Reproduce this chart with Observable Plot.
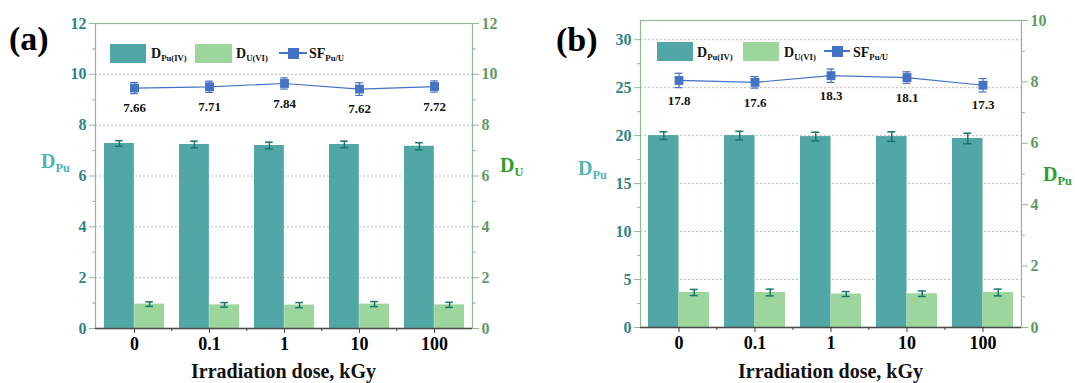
<!DOCTYPE html>
<html><head><meta charset="utf-8">
<script src="https://cdn.jsdelivr.net/npm/d3@7"></script>
<script src="https://cdn.jsdelivr.net/npm/@observablehq/plot@0.6"></script>
<style>
body{margin:0;background:#fff;}
#root{position:relative;width:1075px;height:383px;overflow:hidden;font-family:"Liberation Serif","Times New Roman",serif;font-weight:bold;}
#root svg, #root svg text{font-family:"Liberation Serif","Times New Roman",serif !important;}
.svgwrap{position:absolute;top:0;}
.lab{position:absolute;white-space:nowrap;line-height:1;font-family:"Liberation Serif","Times New Roman",serif;font-weight:bold;}
.lab .s{font-size:0.62em;position:relative;top:0.32em;}
.sw{position:absolute;}
</style></head><body><div id="root"></div>
<script>
// ---- data ----
const doses = ["0", "0.1", "1", "10", "100"];
// panel (a)
const puA = [7.28, 7.24, 7.20, 7.24, 7.17];
const puErrA = [0.11, 0.13, 0.13, 0.13, 0.14];
const uA = [0.96, 0.93, 0.92, 0.96, 0.93];
const uErrA = [0.09, 0.09, 0.10, 0.10, 0.10];
const sfA = [7.66, 7.71, 7.84, 7.62, 7.72];
const sfErrA = [0.22, 0.22, 0.22, 0.25, 0.22];
// panel (b)
const puB = [20.0, 20.0, 19.9, 19.9, 19.7];
const puErrB = [0.40, 0.45, 0.45, 0.50, 0.55];
const uB = [1.14, 1.14, 1.09, 1.10, 1.14];
const uErrB = [0.10, 0.11, 0.08, 0.09, 0.11];
const sfB = [17.8, 17.6, 18.3, 18.1, 17.3];
const sfErrB = [0.75, 0.60, 0.70, 0.60, 0.70];

const TEAL = "#51a6a6", GREEN = "#9dd69c", ERR = "#17776f", BLUE = "#4472c4";
const AX = "#92b892", LTXT = "#2f8585", RTXT = "#5f9a5f";
const FF = '"Liberation Serif", serif';
const root = document.getElementById("root");

function panel(o) {
  const pw = o.width - o.ml - o.mr;
  const step = pw / doses.length, bw = step * 0.8, q = bw / 4, c = 4;
  const rows = doses.map((d, i) => ({
    dose: d, pu: o.pu[i], puE: o.puErr[i],
    u: o.u[i] * o.ratio, uE: o.uErr[i] * o.ratio,
    sf: o.sf[i], sfy: o.sf[i] + o.sfOff, sfE: o.sfErr[i]
  }));
  const capStyle = (center) => ({insetLeft: center - c, insetRight: bw - center - c});
  const errMarks = (yf, ef, center, stroke, sw) => [
    Plot.ruleX(rows, {x: "dose", y1: d => d[yf] - d[ef], y2: d => d[yf] + d[ef], dx: center - bw / 2, stroke, strokeWidth: sw}),
    Plot.tickY(rows, {x: "dose", y: d => d[yf] - d[ef], ...capStyle(center), stroke, strokeWidth: sw}),
    Plot.tickY(rows, {x: "dose", y: d => d[yf] + d[ef], ...capStyle(center), stroke, strokeWidth: sw})
  ];
  const chart = Plot.plot({
    width: o.width, height: 383,
    marginLeft: o.ml, marginRight: o.mr, marginTop: o.mt, marginBottom: o.mb,
    style: {fontFamily: FF, background: "transparent", overflow: "visible"},
    x: {type: "band", domain: doses, paddingInner: 0.2, paddingOuter: 0.1, label: null},
    y: {domain: [0, o.yMax], label: null},
    marks: [
      Plot.ruleY(o.grid, {stroke: "#bcbcbc", strokeDasharray: "2,2", strokeWidth: 1}),
      Plot.barY(rows, {x: "dose", y: "pu", fill: TEAL, insetRight: bw / 2}),
      Plot.barY(rows, {x: "dose", y: "u", fill: GREEN, insetLeft: bw / 2}),
      ...errMarks("pu", "puE", q, ERR, 1.5),
      ...errMarks("u", "uE", 3 * q, ERR, 1.5),
      Plot.frame({stroke: AX, strokeWidth: 1.2}),
      Plot.ruleY([0], {stroke: "#4a4a4a", strokeWidth: 1.3}),
      Plot.line(rows, {x: "dose", y: "sfy", stroke: BLUE, strokeWidth: 1.2}),
      ...errMarks("sfy", "sfE", 2 * q, BLUE, 1.2),
      Plot.dot(rows, {x: "dose", y: "sfy", symbol: "square", r: 5, fill: BLUE}),
      Plot.text(rows, {x: "dose", y: "sfy", text: d => d.sf.toFixed(o.dec), dy: 20, fontSize: 13, fontWeight: "bold", fontFamily: FF, fill: "#111"}),
      Plot.axisY({anchor: "left", ticks: o.lt, tickSize: 6, tickPadding: 3, stroke: AX, fill: LTXT, fontSize: 16, fontWeight: "bold", fontFamily: FF, label: null}),
      Plot.axisY({anchor: "left", ticks: o.lm, tickSize: 3, stroke: AX, tickFormat: () => "", label: null}),
      Plot.axisY({anchor: "right", ticks: o.rt.map(v => v * o.ratio), tickFormat: d => String(Math.round(d / o.ratio)), tickSize: 6, tickPadding: 3, stroke: AX, fill: RTXT, fontSize: 16, fontWeight: "bold", fontFamily: FF, label: null}),
      Plot.axisY({anchor: "right", ticks: o.rm.map(v => v * o.ratio), tickSize: 3, stroke: AX, tickFormat: () => "", label: null}),
      Plot.axisX({ticks: doses, tickSize: 5, tickPadding: 4, stroke: "#444", fill: "#000", fontSize: 18, fontWeight: "bold", fontFamily: FF, label: null}),
      Plot.axisX({ticks: doses.slice(1), tickSize: 3, dx: -step / 2, stroke: "#444", tickFormat: () => "", label: null})
    ]
  });
  const wrap = document.createElement("div");
  wrap.className = "svgwrap";
  wrap.style.left = o.left + "px";
  wrap.appendChild(chart);
  root.appendChild(wrap);
}

function lab(html, x, base, size, color, anchor) {
  const d = document.createElement("div");
  d.className = "lab";
  d.innerHTML = html;
  d.style.fontSize = size + "px";
  d.style.color = color;
  d.style.left = x + "px";
  d.style.top = (base - 0.8375 * size) + "px";
  if (anchor === "middle") d.style.transform = "translateX(-50%)";
  root.appendChild(d);
}
function sw(x, y, w, h, color) {
  const d = document.createElement("div");
  d.className = "sw";
  Object.assign(d.style, {left: x + "px", top: y + "px", width: w + "px", height: h + "px", background: color});
  root.appendChild(d);
}
function lineSym(x, yc, w) {
  sw(x, yc - 1, w, 2, BLUE);
  sw(x + w / 2 - 5.5, yc - 5.5, 11, 11, BLUE);
}

panel({left: 0, width: 540, ml: 95, mr: 68, mt: 23, mb: 55, yMax: 12, ratio: 1,
  pu: puA, puErr: puErrA, u: uA, uErr: uErrA, sf: sfA, sfErr: sfErrA, sfOff: 1.8, dec: 2,
  grid: [2, 4, 6, 8, 10], lt: [0, 2, 4, 6, 8, 10, 12], lm: [1, 3, 5, 7, 9, 11],
  rt: [0, 2, 4, 6, 8, 10, 12], rm: [1, 3, 5, 7, 9, 11]});
panel({left: 540, width: 535, ml: 100, mr: 54, mt: 20, mb: 56, yMax: 32, ratio: 3.2,
  pu: puB, puErr: puErrB, u: uB, uErr: uErrB, sf: sfB, sfErr: sfErrB, sfOff: 7.95, dec: 1,
  grid: [5, 10, 15, 20, 25, 30], lt: [0, 5, 10, 15, 20, 25, 30], lm: [2.5, 7.5, 12.5, 17.5, 22.5, 27.5],
  rt: [0, 2, 4, 6, 8, 10], rm: [1, 3, 5, 7, 9]});

// panel letters
lab("(a)", 9, 50, 34, "#000");
lab("(b)", 556, 51, 34, "#000");
// axis titles
lab("Irradiation dose, kGy", 283.5, 378, 20, "#111", "middle");
lab("Irradiation dose, kGy", 830.5, 378, 20, "#111", "middle");
lab('D<span class="s">Pu</span>', 41, 168, 20, "#4fb4b4");
lab('D<span class="s">U</span>', 500, 172, 20, "#2e9e2e");
lab('D<span class="s">Pu</span>', 578, 175, 20, "#4fb4b4");
lab('D<span class="s">Pu</span>', 1043, 181, 20, "#2e9e2e");
// legends
sw(110, 44, 36, 19, TEAL); lab('D<span class="s">Pu(IV)</span>', 151, 59, 14, "#111");
sw(195, 44, 37, 19, GREEN); lab('D<span class="s">U(VI)</span>', 236, 59, 14, "#111");
lineSym(279, 53, 28); lab('SF<span class="s">Pu/U</span>', 309, 59, 14, "#111");
sw(657, 42, 36, 19, TEAL); lab('D<span class="s">Pu(IV)</span>', 697, 58, 14, "#111");
sw(743, 42, 36, 19, GREEN); lab('D<span class="s">U(VI)</span>', 784, 58, 14, "#111");
lineSym(824, 51, 26); lab('SF<span class="s">Pu/U</span>', 853, 58, 14, "#111");
</script></body></html>
